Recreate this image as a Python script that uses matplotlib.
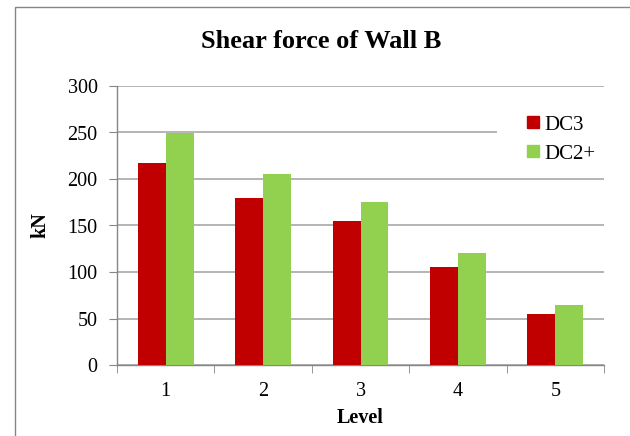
import numpy as np
import matplotlib
matplotlib.use('Agg')
import matplotlib.pyplot as plt
from matplotlib.lines import Line2D
from matplotlib.patches import Rectangle

# data
levels = ['1', '2', '3', '4', '5']
dc3 = [217, 180, 155, 105, 55]
dc2p = [249, 205, 175, 120, 64]

plt.rcParams['font.family'] = ['Liberation Serif', 'DejaVu Serif']

W, H = 630, 436
fig = plt.figure(figsize=(W / 100, H / 100), dpi=100)
ax = fig.add_axes([117 / W, 1 - 365 / H, (604 - 117) / W, (365 - 86) / H])

x = np.arange(1, len(levels) + 1)
bw = 1 / 3.5
ax.bar(x - bw / 2, dc3, bw, color='#C00000', zorder=3)
ax.bar(x + bw / 2, dc2p, bw, color='#92D050', zorder=3)

ax.set_xlim(0.5, 5.5)
ax.set_ylim(0, 300)
ax.set_yticks(range(0, 301, 50))
ax.set_xticks(x)
ax.set_xticklabels(levels)
ax.set_xticks(np.arange(0.5, 6, 1), minor=True)
ax.tick_params(axis='x', which='major', length=0, pad=12, labelsize=14.5)
ax.tick_params(axis='x', which='minor', length=6, color='#868686', direction='out')
ax.tick_params(axis='y', length=6, color='#868686', pad=8, labelsize=14.5)

ax.grid(axis='y', color='#a0a0a0', lw=1.1, zorder=0)
for s in ['top', 'right']:
    ax.spines[s].set_visible(False)
for s in ['left', 'bottom']:
    ax.spines[s].set_color('#868686')
    ax.spines[s].set_linewidth(1)
ax.spines['left'].set_zorder(4)

ax.set_xlabel('Level', fontsize=14.5, fontweight='bold', labelpad=5)
ax.set_ylabel('kN', fontsize=14.5, fontweight='bold', labelpad=12)
fig.text(0.5 + 6 / W, 1 - 42 / H, 'Shear force of Wall B', ha='center', va='center',
         fontsize=19, fontweight='bold')

# white legend area that breaks the 250 gridline
fig.patches.append(Rectangle((497 / W, 1 - 172 / H), 125 / W, 78 / H,
                             transform=fig.transFigure, facecolor='white',
                             edgecolor='none', zorder=5))
handles = [Line2D([], [], marker='s', ls='', color='#C00000', markersize=8.5),
           Line2D([], [], marker='s', ls='', color='#92D050', markersize=8.5)]
leg = fig.legend(handles, ['DC3', 'DC2+'], loc='upper left',
                 bbox_to_anchor=(527 / W, 1 - 115 / H), frameon=False,
                 fontsize=15, handlelength=0.6, handletextpad=0.25,
                 labelspacing=0.45, borderpad=0, borderaxespad=0)
leg.set_zorder(6)

# outer chart border
fig.patches.append(Rectangle((15 / W, -0.1), 1.2, 1 - 7 / H + 0.1,
                             transform=fig.transFigure, fill=False,
                             edgecolor='#868686', lw=1))

fig.savefig('out.png', dpi=100)
